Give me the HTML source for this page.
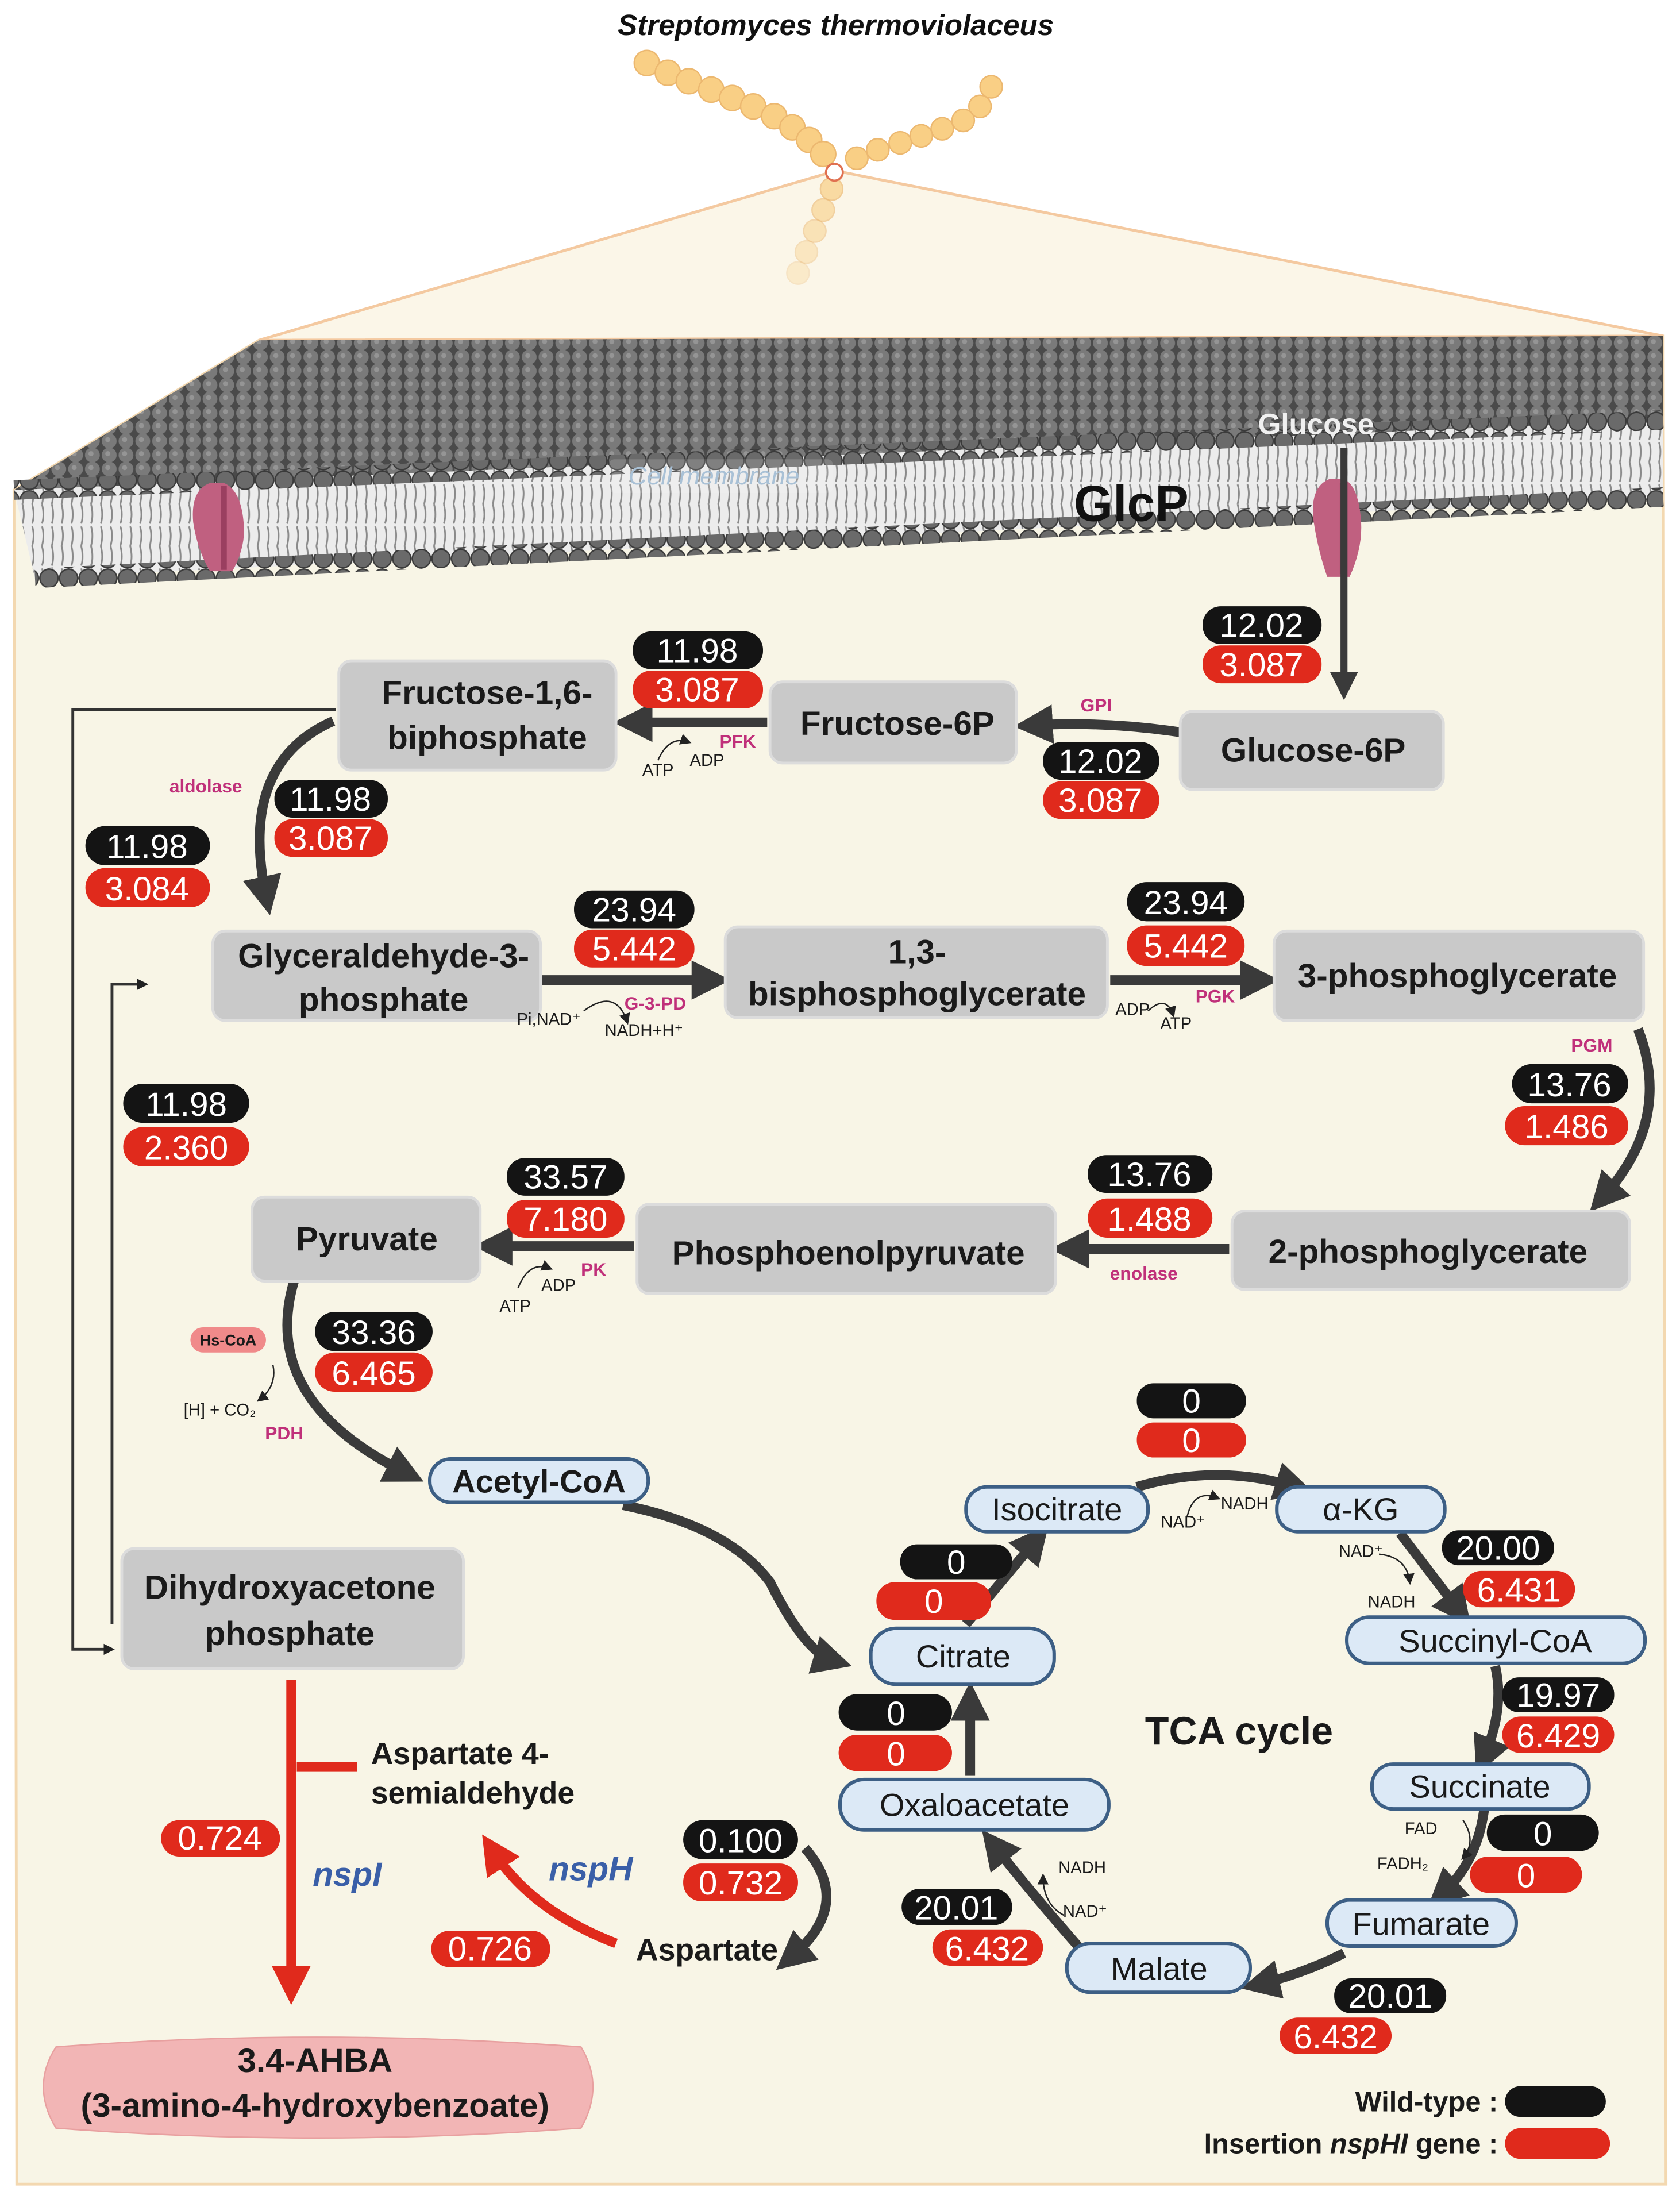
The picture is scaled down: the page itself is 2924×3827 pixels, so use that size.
<!DOCTYPE html>
<html><head><meta charset="utf-8"><style>html,body{margin:0;padding:0;background:#fff}svg{display:block}</style></head><body>
<svg width="2924" height="3827" viewBox="0 0 1200 1570.6" preserveAspectRatio="none" xmlns="http://www.w3.org/2000/svg" font-family="Liberation Sans, sans-serif">
<defs>
<pattern id="dots" width="12" height="10" patternUnits="userSpaceOnUse"><rect width="12" height="10" fill="#4a4a4a"/><circle cx="6" cy="5" r="5.3" fill="#7a7a7a"/><circle cx="5" cy="4" r="1.8" fill="#959595"/></pattern>
<pattern id="tails" width="7" height="30" patternUnits="userSpaceOnUse"><rect width="7" height="30" fill="#ececec"/><path d="M2 0 Q4 8 2 14 M2 16 Q4 22 2 30" stroke="#8a8a8a" stroke-width="1.2" fill="none"/></pattern>
<pattern id="heads" width="14" height="14" patternUnits="userSpaceOnUse"><circle cx="7" cy="7" r="6.5" fill="#6a6a6a" stroke="#3a3a3a" stroke-width="1"/></pattern>
<marker id="ah" markerWidth="4" markerHeight="4" refX="2" refY="2" orient="auto" markerUnits="strokeWidth"><path d="M0,0 L4,2 L0,4 z" fill="#3a3a3a"/></marker>
<marker id="ahs" markerWidth="8" markerHeight="8" refX="6" refY="4" orient="auto" markerUnits="userSpaceOnUse"><path d="M0,0 L8,4 L0,8 z" fill="#222"/></marker>
<marker id="ahr" markerWidth="4" markerHeight="4" refX="2" refY="2" orient="auto" markerUnits="strokeWidth"><path d="M0,0 L4,2 L0,4 z" fill="#e02a1c"/></marker>
</defs>
<rect width="1200" height="1571" fill="#fff"/>
<polygon points="10,350 185,243 1188,240 1190,1560 12,1560" fill="#f8f5e6" stroke="#f3d8b0" stroke-width="2"/>
<polygon points="185,243 597,122 1188,240" fill="#fbf6e8" stroke="#f4c9a0" stroke-width="2"/>
<g fill="#f9cf85" stroke="#ecb870" stroke-width="1">
<circle cx="462" cy="45" r="9"/><circle cx="477" cy="52" r="9"/><circle cx="492" cy="58" r="9"/><circle cx="508" cy="64" r="9"/><circle cx="523" cy="70" r="9"/><circle cx="538" cy="76" r="9"/><circle cx="553" cy="83" r="9"/><circle cx="566" cy="91" r="9"/><circle cx="578" cy="100" r="9"/><circle cx="588" cy="110" r="9"/>
<circle cx="708" cy="62" r="8"/><circle cx="700" cy="76" r="8"/><circle cx="688" cy="86" r="8"/><circle cx="673" cy="92" r="8"/><circle cx="658" cy="97" r="8"/><circle cx="643" cy="102" r="8"/><circle cx="627" cy="107" r="8"/><circle cx="612" cy="113" r="8"/>
<circle cx="594" cy="135" r="8" opacity="0.7"/><circle cx="588" cy="150" r="8" opacity="0.6"/><circle cx="582" cy="165" r="8" opacity="0.5"/><circle cx="576" cy="180" r="8" opacity="0.4"/><circle cx="570" cy="195" r="8" opacity="0.3"/>
</g>
<circle cx="596" cy="123" r="6" fill="#fff" stroke="#e07050" stroke-width="1.5"/>
<text x="597" y="25" font-size="21" font-weight="bold" font-style="italic" text-anchor="middle" fill="#111">Streptomyces thermoviolaceus</text>
<polygon points="10,350 185,243 1188,240 1188,300 10,350" fill="url(#dots)"/>
<polygon points="10,350 1188,300 1188,355 25,413" fill="url(#tails)"/>
<path d="M10,350 L1188,300" stroke="url(#heads)" stroke-width="14"/>
<path d="M25,413 L1188,355" stroke="url(#heads)" stroke-width="14"/>
<path d="M150,345 q-14,5 -12,28 q3,20 12,35 h16 q10,-18 8,-35 q-2,-23 -14,-28z" fill="#c06080"/>
<path d="M160,347 v60" stroke="#9a3f60" stroke-width="4"/>
<path d="M950,342 q-14,5 -12,28 q3,22 10,42 h16 q10,-22 8,-42 q-2,-23 -12,-28z" fill="#c06080"/>
<path d="M959,345 v65" stroke="#9a3f60" stroke-width="4"/>
<rect x="435" y="328" width="160" height="24" rx="4" fill="#ffffff" opacity="0.15"/>
<text x="510" y="346" font-size="18" font-style="italic" fill="#a9c1d6" text-anchor="middle">Cell membrane</text>
<text x="808" y="372" font-size="36" font-weight="bold" text-anchor="middle" fill="#111">GlcP</text>
<text x="940" y="310" font-size="21" font-weight="bold" text-anchor="middle" fill="#f0f0f0">Glucose</text>
<path d="M960,320 L960,490" stroke="#3a3a3a" stroke-width="5" fill="none" marker-end="url(#ah)"/>
<path d="M240,507 H52 V1178 H80" stroke="#333" stroke-width="2" fill="none" marker-end="url(#ahs)"/>
<path d="M80,1160 V703 H104" stroke="#333" stroke-width="2" fill="none" marker-end="url(#ahs)"/>
<g stroke="#3a3a3a" stroke-width="7" fill="none" marker-end="url(#ah)">
<path d="M843,523 Q790,515 738,518"/>
<path d="M548,516 L452,516"/>
<path d="M238,515 Q170,545 190,640"/>
<path d="M387,700 L508,700"/>
<path d="M793,700 L900,700"/>
<path d="M1170,735 Q1195,800 1145,855"/>
<path d="M878,892 L764,892"/>
<path d="M453,890 L352,890"/>
<path d="M210,915 Q185,1000 290,1052"/>
<path d="M445,1075 Q520,1090 550,1130 Q575,1180 595,1186"/>
<path d="M690,1160 L740,1100"/>
<path d="M812,1062 Q870,1045 925,1062"/>
<path d="M1000,1095 L1042,1150"/>
<path d="M1068,1190 Q1075,1220 1060,1255"/>
<path d="M1060,1293 Q1055,1330 1030,1353"/>
<path d="M960,1395 Q930,1410 900,1417"/>
<path d="M770,1390 Q735,1350 710,1318"/>
<path d="M693,1268 L693,1215"/>
<path d="M575,1320 Q610,1360 565,1398"/>
</g>
<g stroke="#222" stroke-width="1" fill="none" marker-end="url(#ahs)">
<path d="M470,543 Q478,525 492,530"/><path d="M417,722 Q440,705 448,730"/><path d="M820,722 Q833,710 838,725"/>
<path d="M370,920 Q378,900 393,906"/><path d="M195,975 Q198,990 185,1000"/><path d="M848,1083 Q853,1063 870,1070"/>
<path d="M985,1110 Q1005,1112 1007,1130"/><path d="M1045,1300 Q1055,1315 1045,1327"/><path d="M760,1368 Q745,1360 745,1340"/>
</g>
<path d="M208,1200 L208,1418" stroke="#e02a1c" stroke-width="7" marker-end="url(#ahr)"/>
<path d="M212,1262 H255" stroke="#e02a1c" stroke-width="7"/>
<path d="M440,1388 Q380,1365 352,1322" stroke="#e02a1c" stroke-width="7" fill="none" marker-end="url(#ahr)"/>
<g fill="#c9c9c9" stroke="#dcdcdc" stroke-width="2">
<rect x="242" y="472" width="198" height="78" rx="9"/><rect x="550" y="487" width="176" height="58" rx="9"/><rect x="843" y="508" width="188" height="56" rx="9"/>
<rect x="152" y="665" width="234" height="64" rx="9"/><rect x="518" y="662" width="273" height="65" rx="9"/><rect x="910" y="665" width="264" height="64" rx="9"/>
<rect x="880" y="865" width="284" height="56" rx="9"/><rect x="455" y="860" width="299" height="64" rx="9"/><rect x="180" y="855" width="163" height="60" rx="9"/>
<rect x="87" y="1106" width="244" height="86" rx="9"/>
</g>
<g font-size="24" font-weight="bold" fill="#1a1a1a" text-anchor="middle">
<text x="348" y="503">Fructose-1,6-</text><text x="348" y="535">biphosphate</text>
<text x="641" y="525">Fructose-6P</text><text x="938" y="544">Glucose-6P</text>
<text x="274" y="691">Glyceraldehyde-3-</text><text x="274" y="722">phosphate</text>
<text x="655" y="688">1,3-</text><text x="655" y="718">bisphosphoglycerate</text>
<text x="1041" y="705">3-phosphoglycerate</text><text x="1020" y="902">2-phosphoglycerate</text>
<text x="606" y="903">Phosphoenolpyruvate</text><text x="262" y="893">Pyruvate</text>
<text x="207" y="1142">Dihydroxyacetone</text><text x="207" y="1175">phosphate</text>
</g>
<g fill="#dce9f6" stroke="#3d5f85" stroke-width="2.5">
<rect x="307" y="1042" width="156" height="31" rx="15"/><rect x="690" y="1062" width="130" height="32" rx="15"/><rect x="912" y="1062" width="120" height="32" rx="15"/>
<rect x="962" y="1155" width="213" height="33" rx="16"/><rect x="622" y="1163" width="131" height="40" rx="18"/><rect x="980" y="1260" width="155" height="32" rx="15"/>
<rect x="600" y="1271" width="192" height="36" rx="17"/><rect x="948" y="1357" width="135" height="33" rx="16"/><rect x="762" y="1388" width="131" height="35" rx="17"/>
</g>
<g font-size="23" fill="#1a1a1a" text-anchor="middle">
<text x="385" y="1066" font-weight="bold">Acetyl-CoA</text><text x="755" y="1086">Isocitrate</text><text x="972" y="1086">α-KG</text>
<text x="1068" y="1180">Succinyl-CoA</text><text x="688" y="1191">Citrate</text><text x="1057" y="1284">Succinate</text>
<text x="696" y="1297">Oxaloacetate</text><text x="1015" y="1382">Fumarate</text><text x="828" y="1414">Malate</text>
</g>
<text x="885" y="1246" font-size="28" font-weight="bold" text-anchor="middle" fill="#1a1a1a">TCA cycle</text>
<path d="M40,1462 Q225,1448 415,1462 Q432,1490 415,1520 Q225,1534 40,1520 Q22,1490 40,1462z" fill="#f2b5b5" stroke="#e8a0a0"/>
<text x="225" y="1480" font-size="24" font-weight="bold" text-anchor="middle" fill="#1a1a1a">3.4-AHBA</text>
<text x="225" y="1512" font-size="24" font-weight="bold" text-anchor="middle" fill="#1a1a1a">(3-amino-4-hydroxybenzoate)</text>
<text x="265" y="1260" font-size="22" font-weight="bold" fill="#1a1a1a">Aspartate 4-</text>
<text x="265" y="1288" font-size="22" font-weight="bold" fill="#1a1a1a">semialdehyde</text>
<text x="505" y="1400" font-size="22" font-weight="bold" text-anchor="middle" fill="#1a1a1a">Aspartate</text>
<text x="248" y="1347" font-size="24" font-weight="bold" font-style="italic" fill="#3a5fa8" text-anchor="middle">nspI</text>
<text x="422" y="1343" font-size="24" font-weight="bold" font-style="italic" fill="#3a5fa8" text-anchor="middle">nspH</text>
<g font-size="13" font-weight="bold" fill="#c0307a" text-anchor="middle">
<text x="783" y="508">GPI</text><text x="527" y="534">PFK</text><text x="147" y="566">aldolase</text><text x="468" y="721">G-3-PD</text>
<text x="868" y="716">PGK</text><text x="1137" y="751">PGM</text><text x="424" y="911">PK</text><text x="817" y="914">enolase</text><text x="203" y="1028">PDH</text>
</g>
<g font-size="12" fill="#1a1a1a" text-anchor="middle">
<text x="470" y="554">ATP</text><text x="505" y="547">ADP</text><text x="392" y="732">Pi,NAD⁺</text><text x="460" y="740">NADH+H⁺</text>
<text x="809" y="725">ADP</text><text x="840" y="735">ATP</text><text x="368" y="937">ATP</text><text x="399" y="922">ADP</text>
<text x="157" y="1011">[H] + CO₂</text><text x="845" y="1091">NAD⁺</text><text x="889" y="1078">NADH</text>
<text x="972" y="1112">NAD⁺</text><text x="994" y="1148">NADH</text><text x="1015" y="1310">FAD</text><text x="1002" y="1335">FADH₂</text>
<text x="773" y="1338">NADH</text><text x="775" y="1369">NAD⁺</text>
</g>
<rect x="136" y="948" width="54" height="18" rx="9" fill="#f08a8a"/>
<text x="163" y="961" font-size="11" font-weight="bold" text-anchor="middle" fill="#1a1a1a">Hs-CoA</text>
<g font-size="24" text-anchor="middle" fill="#fff">
<g fill="#141414">
<rect x="452" y="451" width="93" height="27" rx="13"/><rect x="859" y="433" width="85" height="27" rx="13"/><rect x="745" y="530" width="83" height="27" rx="13"/>
<rect x="196" y="557" width="81" height="27" rx="13"/><rect x="61" y="590" width="89" height="28" rx="14"/><rect x="410" y="636" width="86" height="27" rx="13"/>
<rect x="805" y="630" width="84" height="28" rx="14"/><rect x="1080" y="760" width="83" height="28" rx="14"/><rect x="88" y="774" width="90" height="28" rx="14"/>
<rect x="362" y="827" width="84" height="27" rx="13"/><rect x="777" y="825" width="89" height="27" rx="13"/><rect x="225" y="937" width="84" height="28" rx="14"/>
<rect x="812" y="988" width="78" height="25" rx="12"/><rect x="643" y="1103" width="80" height="25" rx="12"/><rect x="1030" y="1093" width="80" height="25" rx="12"/>
<rect x="599" y="1210" width="81" height="26" rx="13"/><rect x="1073" y="1198" width="80" height="25" rx="12"/><rect x="488" y="1300" width="82" height="28" rx="14"/>
<rect x="1062" y="1296" width="80" height="26" rx="13"/><rect x="644" y="1349" width="79" height="26" rx="13"/><rect x="953" y="1413" width="80" height="25" rx="12"/>
<rect x="1075" y="1490" width="72" height="22" rx="11"/>
</g>
<g fill="#e02a1c">
<rect x="452" y="479" width="93" height="27" rx="13"/><rect x="859" y="461" width="85" height="27" rx="13"/><rect x="745" y="558" width="83" height="27" rx="13"/>
<rect x="196" y="585" width="81" height="27" rx="13"/><rect x="61" y="620" width="89" height="28" rx="14"/><rect x="410" y="664" width="86" height="27" rx="13"/>
<rect x="805" y="661" width="84" height="29" rx="14"/><rect x="1075" y="790" width="88" height="28" rx="14"/><rect x="88" y="805" width="90" height="28" rx="14"/>
<rect x="362" y="857" width="84" height="27" rx="13"/><rect x="777" y="856" width="89" height="28" rx="14"/><rect x="225" y="966" width="84" height="28" rx="14"/>
<rect x="812" y="1016" width="78" height="25" rx="12"/><rect x="626" y="1130" width="82" height="27" rx="13"/><rect x="1045" y="1122" width="80" height="26" rx="13"/>
<rect x="599" y="1239" width="81" height="26" rx="13"/><rect x="1073" y="1226" width="80" height="26" rx="13"/><rect x="488" y="1331" width="82" height="27" rx="13"/>
<rect x="1050" y="1326" width="80" height="26" rx="13"/><rect x="666" y="1378" width="79" height="26" rx="13"/><rect x="914" y="1441" width="80" height="26" rx="13"/>
<rect x="115" y="1300" width="85" height="26" rx="13"/><rect x="308" y="1379" width="85" height="26" rx="13"/><rect x="1075" y="1520" width="75" height="22" rx="11"/>
</g>
<text x="498" y="473">11.98</text><text x="498" y="501">3.087</text>
<text x="901" y="455">12.02</text><text x="901" y="483">3.087</text>
<text x="786" y="552">12.02</text><text x="786" y="580">3.087</text>
<text x="236" y="579">11.98</text><text x="236" y="607">3.087</text>
<text x="105" y="613">11.98</text><text x="105" y="643">3.084</text>
<text x="453" y="658">23.94</text><text x="453" y="686">5.442</text>
<text x="847" y="653">23.94</text><text x="847" y="684">5.442</text>
<text x="1121" y="783">13.76</text><text x="1119" y="813">1.486</text>
<text x="133" y="797">11.98</text><text x="133" y="828">2.360</text>
<text x="404" y="849">33.57</text><text x="404" y="879">7.180</text>
<text x="821" y="847">13.76</text><text x="821" y="879">1.488</text>
<text x="267" y="960">33.36</text><text x="267" y="989">6.465</text>
<text x="851" y="1009">0</text><text x="851" y="1037">0</text>
<text x="683" y="1124">0</text><text x="667" y="1152">0</text>
<text x="1070" y="1114">20.00</text><text x="1085" y="1144">6.431</text>
<text x="640" y="1232">0</text><text x="640" y="1261">0</text>
<text x="1113" y="1219">19.97</text><text x="1113" y="1248">6.429</text>
<text x="529" y="1323">0.100</text><text x="529" y="1353">0.732</text>
<text x="1102" y="1318">0</text><text x="1090" y="1348">0</text>
<text x="683" y="1371">20.01</text><text x="705" y="1400">6.432</text>
<text x="993" y="1434">20.01</text><text x="954" y="1463">6.432</text>
<text x="157" y="1321">0.724</text><text x="350" y="1400">0.726</text>
</g>
<text x="1070" y="1508" font-size="20" font-weight="bold" text-anchor="end" fill="#1a1a1a">Wild-type :</text>
<text x="1070" y="1538" font-size="20" font-weight="bold" text-anchor="end" fill="#1a1a1a">Insertion <tspan font-style="italic">nspHI</tspan> gene :</text>
</svg>
</body></html>
